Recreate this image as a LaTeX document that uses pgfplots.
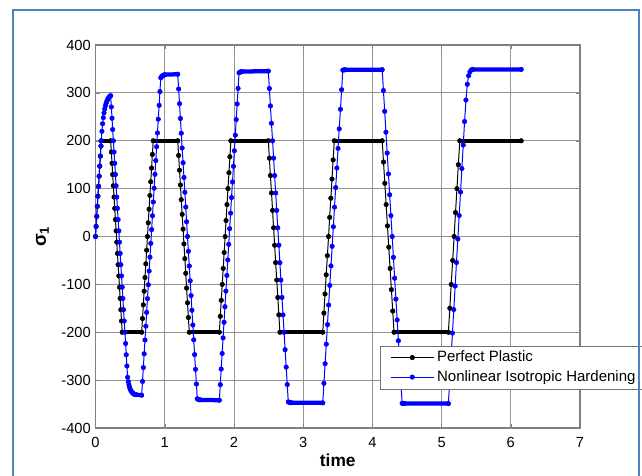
\documentclass[border=0pt]{standalone}
\usepackage{fontspec}
\setmainfont{Liberation Sans}
\usepackage{pgfplots}
\pgfplotsset{compat=1.18}
\definecolor{frameblue}{RGB}{79,129,189}
\definecolor{mblue}{RGB}{0,0,255}
\begin{document}
\begin{tikzpicture}
\begin{axis}[
  at={(0,0)}, anchor=south west,
  scale only axis, width=363.4pt, height=287.25pt,
  xmin=0, xmax=7, ymin=-400, ymax=400,
  xtick={0,1,...,7}, ytick={-400,-300,...,400},
  /pgf/number format/assume math mode=true,
  tick label style={font=\fontsize{11}{13}\selectfont},
  xticklabel style={yshift=-3.5pt},
  grid=major, major grid style={black!42, line width=0.6pt},
  axis line style={black!50, line width=0.8pt},
  tick align=inside, major tick length=3pt, tick style={black!50},
  xlabel={time}, ylabel={σ\textsubscript{1}},
  xlabel style={font=\fontsize{13}{15}\selectfont\bfseries, at={(axis description cs:0.5,-0.0557)}, anchor=north},
  ylabel style={font=\fontsize{14}{16}\selectfont\bfseries, at={(axis description cs:-0.1094,0.5)}, anchor=center},
  legend style={at={(axis description cs:0.587,0.2154)}, anchor=north west, draw=black!55, fill=white,
    font=\fontsize{11.25}{13.5}\selectfont, inner xsep=7.5pt, inner ysep=2pt, row sep=1pt},
  legend cell align=left,
  legend image code/.code={\draw[mark repeat=2,mark phase=2] plot coordinates {(0cm,0cm) (0.57cm,0cm) (1.14cm,0cm)};},
  unbounded coords=jump,
]
% Perfect Plastic
\addplot[black, line width=0.75pt, mark=*, mark size=1.7pt, mark options={solid, line width=0.4pt}] coordinates {
(0,0)(0.009,21)(0.018,42)(0.026,63)(0.035,84)(0.044,105)(0.053,126)(0.061,147)(0.070,168)(0.079,189)(0.083,200)
(0.219,200)
(0.229,176.5)(0.239,152.9)(0.248,129.4)(0.258,105.9)(0.268,82.4)(0.278,58.8)(0.288,35.3)(0.298,11.8)(0.307,-11.8)(0.317,-35.3)(0.327,-58.8)(0.337,-82.4)(0.347,-105.9)(0.356,-129.4)(0.366,-152.9)(0.376,-176.5)(0.386,-200)
(0.667,-200)
(0.679,-171.4)(0.691,-142.9)(0.703,-114.3)(0.715,-85.7)(0.727,-57.1)(0.739,-28.6)(0.751,0)(0.762,28.6)(0.774,57.1)(0.786,85.7)(0.798,114.3)(0.810,142.9)(0.822,171.4)(0.834,200)
(1.188,200)
(1.201,169.2)(1.214,138.5)(1.227,107.7)(1.239,76.9)(1.252,46.2)(1.265,15.4)(1.278,-15.4)(1.291,-46.2)(1.304,-76.9)(1.316,-107.7)(1.329,-138.5)(1.342,-169.2)(1.355,-200)
(1.789,-200)
(1.803,-166.7)(1.817,-133.3)(1.831,-100)(1.845,-66.7)(1.859,-33.3)(1.873,0)(1.886,33.3)(1.900,66.7)(1.914,100)(1.928,133.3)(1.942,166.7)(1.956,200)
(2.497,200)
(2.512,163.6)(2.527,127.3)(2.543,90.9)(2.558,54.5)(2.573,18.2)(2.588,-18.2)(2.603,-54.5)(2.618,-90.9)(2.634,-127.3)(2.649,-163.6)(2.664,-200)
(3.283,-200)
(3.300,-160)(3.316,-120)(3.333,-80)(3.350,-40)(3.367,0)(3.383,40)(3.400,80)(3.417,120)(3.433,160)(3.450,200)
(4.142,200)
(4.161,155.6)(4.180,111.1)(4.199,66.7)(4.218,22.2)(4.237,-22.2)(4.256,-66.7)(4.275,-111.1)(4.294,-155.6)(4.313,-200)
(5.098,-200)
(5.119,-150)(5.139,-100)(5.160,-50)(5.181,0)(5.201,50)(5.222,100)(5.242,150)(5.263,200)
(6.150,200)
};
\addlegendentry{Perfect Plastic}
% dense plateau dots of Perfect Plastic
\addplot[black, line width=3.2pt, line cap=round, forget plot] coordinates {
(0.083,200)(0.219,200)(0.3,nan)
(0.386,-200)(0.667,-200)(0.7,nan)
(0.834,200)(1.188,200)(1.2,nan)
(1.355,-200)(1.789,-200)(1.8,nan)
(1.956,200)(2.497,200)(2.5,nan)
(2.664,-200)(3.283,-200)(3.3,nan)
(3.450,200)(4.142,200)(4.15,nan)
(4.313,-200)(5.098,-200)(5.1,nan)
(5.263,200)(6.150,200)
};
% Nonlinear Isotropic Hardening
\addplot[mblue, line width=0.75pt, mark=*, mark size=1.7pt, mark options={solid, line width=0.4pt}] coordinates {
(0,0)(0.009,21)(0.018,42)(0.026,63)(0.035,84)(0.044,105)(0.053,126)(0.061,147)(0.070,168)(0.079,189)(0.083,200)
(0.093,219.7)(0.103,235.5)(0.113,248.2)(0.123,258.3)(0.133,266.4)(0.143,272.9)(0.153,278.1)(0.163,282.3)(0.173,285.6)(0.183,288.3)(0.193,290.4)(0.203,292.1)(0.213,293.5)(0.219,294.1)
(0.229,270.6)(0.239,247.0)(0.248,223.5)(0.258,200.0)(0.268,176.5)(0.278,152.9)(0.288,129.4)(0.297,105.9)(0.307,82.3)(0.317,58.8)(0.327,35.3)(0.337,11.8)(0.346,-11.8)(0.356,-35.3)(0.366,-58.8)(0.376,-82.3)(0.386,-105.9)(0.395,-129.4)(0.405,-152.9)(0.415,-176.5)(0.425,-200.0)(0.435,-223.5)(0.444,-247.0)(0.454,-270.6)(0.464,-294.1)
(0.474,-303.3)(0.484,-310.2)(0.493,-315.4)(0.503,-319.4)(0.513,-322.4)(0.523,-324.6)(0.533,-326.3)(0.542,-327.6)(0.552,-328.6)(0.562,-329.3)(0.572,-329.9)(0.582,-330.3)(0.667,-331.5)
(0.679,-302.7)(0.691,-273.8)(0.703,-245.0)(0.715,-216.2)(0.727,-187.4)(0.739,-158.5)(0.751,-129.7)(0.763,-100.9)(0.775,-72.0)(0.787,-43.2)(0.799,-14.4)(0.811,14.5)(0.823,43.3)(0.835,72.1)(0.847,100.9)(0.859,129.8)(0.871,158.6)(0.883,187.4)(0.895,216.3)(0.907,245.1)(0.919,273.9)(0.931,302.8)(0.943,331.5)
(0.955,334.0)(0.967,335.6)(0.979,336.7)(0.991,337.5)(1.003,338.0)(1.188,339)
(1.201,308.2)(1.214,277.4)(1.227,246.5)(1.239,215.7)(1.252,184.9)(1.265,154.1)(1.278,123.3)(1.291,92.4)(1.304,61.6)(1.316,30.8)(1.329,0)(1.342,-30.8)(1.355,-61.7)(1.368,-92.5)(1.381,-123.3)(1.393,-154.1)(1.406,-184.9)(1.419,-215.8)(1.432,-246.6)(1.445,-277.4)(1.458,-308.2)(1.470,-339)
(1.483,-340.1)(1.496,-340.8)(1.509,-341.2)(1.789,-342)
(1.803,-309.4)(1.816,-276.9)(1.830,-244.3)(1.843,-211.7)(1.857,-179.2)(1.870,-146.6)(1.884,-114.0)(1.898,-81.4)(1.911,-48.9)(1.925,-16.3)(1.938,16.3)(1.952,48.8)(1.965,81.4)(1.979,114.0)(1.993,146.6)(2.006,179.1)(2.020,211.7)(2.033,244.3)(2.047,276.9)(2.060,309.4)(2.074,342)
(2.088,343.2)(2.101,344.0)(2.115,344.5)(2.497,345.5)
(2.512,309.1)(2.527,272.8)(2.542,236.4)(2.558,200.0)(2.573,163.7)(2.588,127.3)(2.603,90.9)(2.618,54.5)(2.633,18.2)(2.649,-18.2)(2.664,-54.6)(2.679,-90.9)(2.694,-127.3)(2.709,-163.7)(2.724,-200.1)(2.739,-236.4)(2.755,-272.8)(2.770,-309.2)(2.785,-345.5)
(2.800,-346.4)(2.815,-346.9)(2.830,-347.2)(3.283,-347.5)
(3.300,-306.6)(3.317,-265.7)(3.334,-224.9)(3.351,-184.0)(3.368,-143.1)(3.385,-102.2)(3.402,-61.3)(3.419,-20.5)(3.436,20.4)(3.453,61.3)(3.470,102.2)(3.487,143.1)(3.504,184.0)(3.521,224.8)(3.539,265.7)(3.556,306.6)(3.573,347.5)
(3.590,348.0)(3.607,348.3)(4.142,348.5)
(4.160,304.9)(4.178,261.4)(4.196,217.8)(4.214,174.3)(4.232,130.7)(4.250,87.1)(4.268,43.6)(4.286,0)(4.304,-43.5)(4.322,-87.1)(4.340,-130.7)(4.358,-174.2)(4.376,-217.8)(4.394,-261.3)(4.412,-304.9)(4.430,-348.5)
(4.448,-348.8)(4.466,-349)(5.098,-349)
(5.118,-299.9)(5.137,-250.8)(5.157,-201.7)(5.176,-152.6)(5.196,-103.5)(5.215,-54.4)(5.235,-5.3)(5.254,43.8)(5.274,92.9)(5.293,142.0)(5.313,191.1)(5.332,240.2)(5.352,285)(5.371,318)(5.391,336)(5.410,344)(5.430,348)(5.450,349)(6.150,349)
};
\addlegendentry{Nonlinear Isotropic Hardening}
% dense plateau dots of Nonlinear Isotropic Hardening
\addplot[mblue, line width=3.2pt, line cap=round, line join=round, forget plot] coordinates {
(0.542,-327.6)(0.562,-329.3)(0.582,-330.3)(0.667,-331.5)(0.7,nan)
(0.979,336.7)(1.003,338.0)(1.188,339)(1.2,nan)
(1.483,-340.1)(1.509,-341.2)(1.789,-342)(1.8,nan)
(2.101,344.0)(2.115,344.5)(2.497,345.5)(2.5,nan)
(2.815,-346.9)(2.830,-347.2)(3.283,-347.5)(3.3,nan)
(3.590,348.0)(3.607,348.3)(4.142,348.5)(4.15,nan)
(4.448,-348.8)(4.466,-349)(5.098,-349)(5.1,nan)
(5.430,348)(5.450,349)(6.150,349)
};
\end{axis}
\pgfresetboundingbox
\path[use as bounding box] (-71.625pt,-35.25pt) rectangle (409.875pt,321pt);
\draw[frameblue, line width=1.5pt] (-61.875pt,-45pt) -- (-61.875pt,313.5pt) -- (407.625pt,313.5pt) -- (407.625pt,-45pt);
\end{tikzpicture}
\end{document}
